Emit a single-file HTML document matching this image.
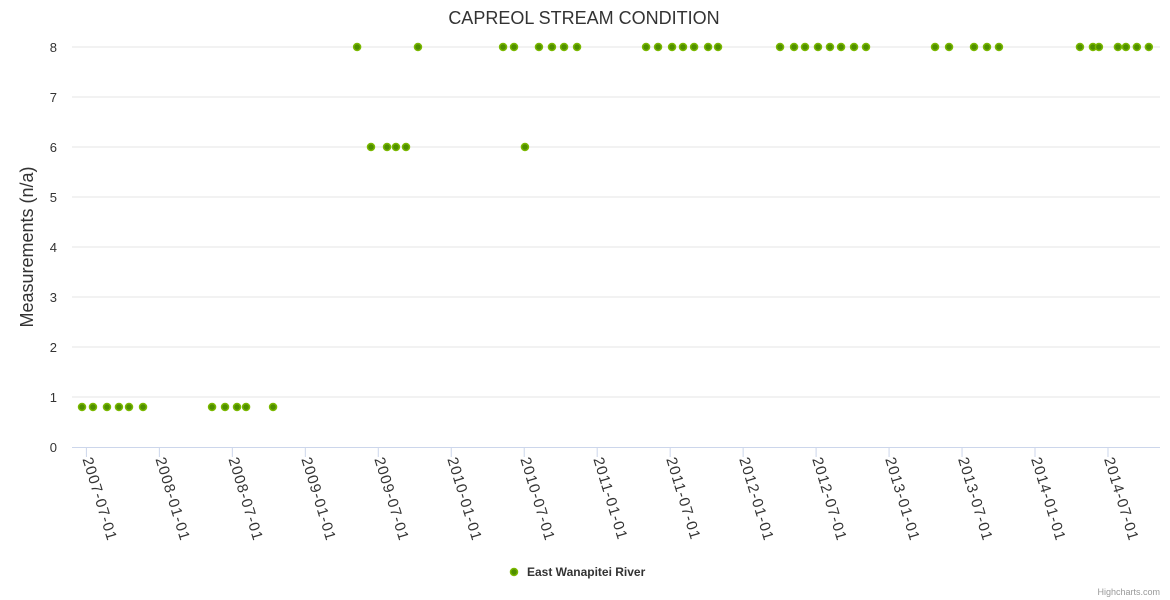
<!DOCTYPE html>
<html><head><meta charset="utf-8"><style>
html,body{margin:0;padding:0;background:#fff;}
svg{display:block;font-family:"Liberation Sans",sans-serif;}
</style></head><body>
<svg id="chart" width="1170" height="600">
<text x="584" y="24" text-anchor="middle" font-size="18" fill="#333">CAPREOL STREAM CONDITION</text>
<text transform="translate(33,247) rotate(-90)" text-anchor="middle" font-size="18" fill="#333">Measurements (n/a)</text>
<g id="grid"></g><g id="xaxis"></g><g id="points"></g>
<g>
<circle cx="514" cy="572" r="3.5" fill="#4f8f00" stroke="#7ab800" stroke-width="1.5"/>
<text x="527" y="576" font-size="12" font-weight="bold" fill="#333">East Wanapitei River</text>
</g>
<text x="1160" y="595" text-anchor="end" font-size="9" fill="#999">Highcharts.com</text>
</svg>
<script>
const yTicks=[0,1,2,3,4,5,6,7,8];
const xTickVals=[2007.5,2008,2008.5,2009,2009.5,2010,2010.5,2011,2011.5,2012,2012.5,2013,2013.5,2014,2014.5];
const xTickLabels=["2007-07-01","2008-01-01","2008-07-01","2009-01-01","2009-07-01","2010-01-01","2010-07-01","2011-01-01","2011-07-01","2012-01-01","2012-07-01","2013-01-01","2013-07-01","2014-01-01","2014-07-01"];
const dates=[2007.470,2007.545,2007.641,2007.723,2007.792,2007.888,2008.361,2008.450,2008.532,2008.594,2008.779,
2009.355,2009.450,2009.560,2009.621,2009.690,2009.772,2010.355,2010.430,2010.505,2010.601,2010.690,2010.773,2010.862,
2011.335,2011.417,2011.513,2011.588,2011.664,2011.760,2011.828,2012.253,2012.349,2012.424,2012.513,2012.595,2012.671,2012.760,2012.842,
2013.315,2013.411,2013.582,2013.671,2013.753,2014.308,2014.397,2014.438,2014.568,2014.623,2014.698,2014.780];
const values=[0.8,0.8,0.8,0.8,0.8,0.8,0.8,0.8,0.8,0.8,0.8,
8,6,6,6,6,8,8,8,6,8,8,8,8,
8,8,8,8,8,8,8,8,8,8,8,8,8,8,8,
8,8,8,8,8,8,8,8,8,8,8,8];
const NS="http://www.w3.org/2000/svg";
const X=t=>86.4+(t-2007.5)*145.94;
const Y=v=>447-v*50;
const L=72,R=1160;
function mk(tag,attrs,parent){const e=document.createElementNS(NS,tag);for(const k in attrs)e.setAttribute(k,attrs[k]);parent.appendChild(e);return e;}
const grid=document.getElementById('grid');
yTicks.forEach(v=>{
  if(v>0){const g=mk('line',{x1:L,x2:R,y1:Y(v),y2:Y(v),stroke:'#e6e6e6'},grid);
  
  }
  const t=mk('text',{x:57,y:Y(v)+5,'text-anchor':'end','font-size':13,fill:'#333'},grid);
  t.textContent=v;
  
  
});
const xa=document.getElementById('xaxis');
const axl=mk('line',{x1:L,x2:R,y1:447.5,y2:447.5,stroke:'#ccd6eb'},xa);


xTickVals.forEach((t,i)=>{
  const x=X(t);
  mk('line',{x1:x,x2:x,y1:447,y2:457,stroke:'#ccd6eb'},xa);
  const tx=mk('text',{transform:`translate(${x-4},${459}) rotate(73)`,'font-size':15,'letter-spacing':1,fill:'#333'},xa);
  tx.textContent=xTickLabels[i];
  
  
});
const pts=document.getElementById('points');
dates.forEach((d,i)=>{
  const c=mk('circle',{cx:X(d),cy:Y(values[i]),r:3.5,fill:'#4f8f00',stroke:'#7ab800','stroke-width':1.5},pts);
  
  
});
</script>
</body></html>
